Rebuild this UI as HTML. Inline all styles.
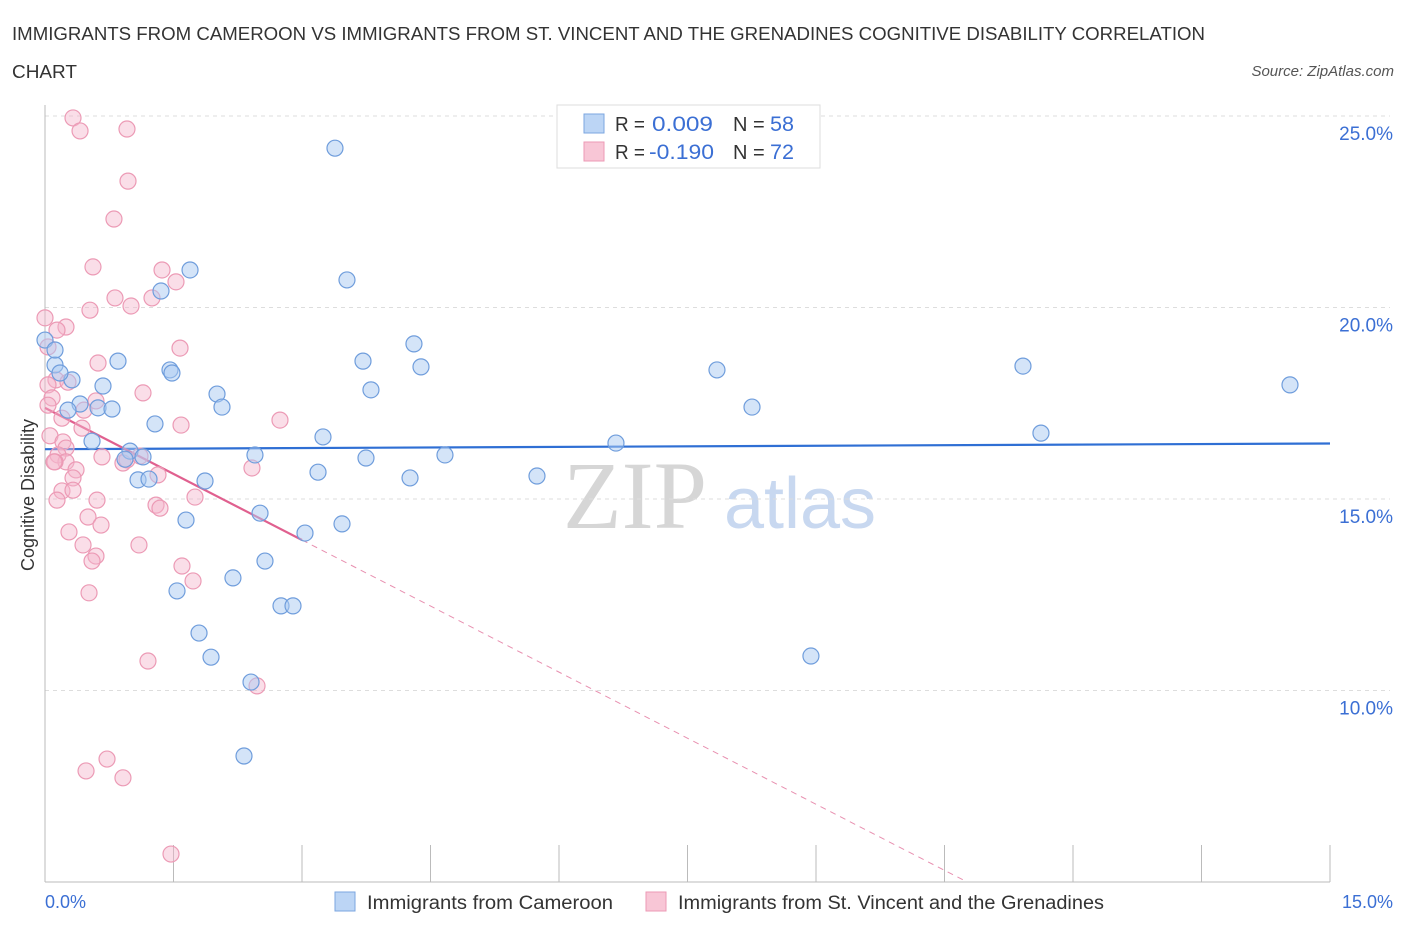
<!DOCTYPE html>
<html><head><meta charset="utf-8">
<style>
body{margin:0;background:#fff;font-family:"Liberation Sans",sans-serif;}
svg text{font-family:"Liberation Sans",sans-serif;}
</style></head>
<body>
<svg id="chart" width="1406" height="930" xmlns="http://www.w3.org/2000/svg">
<text x="12" y="40" font-size="18" fill="#333" textLength="1193" lengthAdjust="spacingAndGlyphs">IMMIGRANTS FROM CAMEROON VS IMMIGRANTS FROM ST. VINCENT AND THE GRENADINES COGNITIVE DISABILITY CORRELATION</text>
<text x="12" y="78" font-size="18" fill="#333" textLength="65" lengthAdjust="spacingAndGlyphs">CHART</text>
<text x="1394" y="76" font-size="15" fill="#555" font-style="italic" text-anchor="end">Source: ZipAtlas.com</text>
<text x="635" y="528" font-size="96" fill="#d6d6d6" text-anchor="middle" style="font-family:'Liberation Serif',serif">ZIP</text>
<text x="800" y="528" font-size="72" fill="#c8d8f0" text-anchor="middle">atlas</text>
<g id="grid"></g>
<g id="axes"></g>
<g id="lines"></g>
<g id="points"></g>
<text x="34" y="495" font-size="18" fill="#333" text-anchor="middle" transform="rotate(-90 34 495)">Cognitive Disability</text>
<text x="45" y="908" font-size="18" fill="#3b6fd4">0.0%</text>
<text x="1393" y="908" font-size="18" fill="#3b6fd4" text-anchor="end">15.0%</text>
<g>
<rect x="557" y="105" width="263" height="63" fill="#fff" stroke="#ddd"/>
<rect x="584" y="114" width="20" height="19" fill="#bcd5f5" stroke="#7ba6e0"/>
<rect x="584" y="142" width="20" height="19" fill="#f8c6d6" stroke="#ec9ab5"/>
<text x="615" y="131" font-size="20" fill="#333" textLength="30" lengthAdjust="spacingAndGlyphs">R =</text><text x="652" y="131" font-size="21" fill="#3b6fd4" textLength="61" lengthAdjust="spacingAndGlyphs">0.009</text>
<text x="733" y="131" font-size="20" fill="#333">N = </text><text x="770" y="131" font-size="21" fill="#3b6fd4" textLength="24" lengthAdjust="spacingAndGlyphs">58</text>
<text x="615" y="159" font-size="20" fill="#333" textLength="30" lengthAdjust="spacingAndGlyphs">R =</text><text x="649" y="159" font-size="21" fill="#3b6fd4" textLength="65" lengthAdjust="spacingAndGlyphs">-0.190</text>
<text x="733" y="159" font-size="20" fill="#333">N = </text><text x="770" y="159" font-size="21" fill="#3b6fd4" textLength="24" lengthAdjust="spacingAndGlyphs">72</text>
</g>
<g>
<rect x="335" y="892" width="20" height="19" fill="#bcd5f5" stroke="#7ba6e0"/>
<text x="367" y="909" font-size="19" fill="#333" textLength="246" lengthAdjust="spacingAndGlyphs">Immigrants from Cameroon</text>
<rect x="646" y="892" width="20" height="19" fill="#f8c6d6" stroke="#ec9ab5"/>
<text x="678" y="909" font-size="19" fill="#333" textLength="426" lengthAdjust="spacingAndGlyphs">Immigrants from St. Vincent and the Grenadines</text>
</g>
</svg>
<script>
const yTicks=[10,15,20,25];
const yTickLabels=["10.0%","15.0%","20.0%","25.0%"];
const xTicks=[0,1.5,3,4.5,6,7.5,9,10.5,12,13.5,15];
const blueX=[3.385,1.693,3.525,1.354,0,0.852,1.459,1.482,3.712,4.307,4.389,0.117,0.315,0.677,2.008,3.805,0.409,0.268,0.619,0.782,2.066,1.284,3.245,0.549,0.992,0.934,1.144,2.451,3.747,4.669,6.665,3.187,4.261,5.743,1.868,1.086,1.214,2.510,1.646,3.467,3.035,2.568,2.194,1.541,2.755,2.895,1.798,1.938,2.405,2.323,7.844,8.253,11.416,11.626,14.533,8.941,0.117,0.175];
const blueY=[24.16,20.98,20.72,20.43,19.15,18.60,18.37,18.29,18.60,19.05,18.45,18.50,18.11,17.95,17.74,17.85,17.48,17.32,17.38,17.35,17.40,16.96,16.62,16.51,16.25,16.04,16.10,16.15,16.07,16.15,16.46,15.70,15.55,15.60,15.47,15.50,15.52,14.63,14.45,14.35,14.11,13.38,12.94,12.60,12.21,12.21,11.50,10.87,10.22,8.29,18.37,17.40,18.47,16.72,17.98,10.90,18.89,18.29];
const pinkX=[0.327,0.409,0.957,0.969,0.805,0.560,1.366,1.529,0.817,1.249,1.004,0.525,0,0.245,0.140,0.035,1.576,0.619,0.128,0.268,0.035,0.082,0.035,0.595,1.144,0.455,2.743,1.588,0.432,0.058,0.210,0.245,0.152,0.245,0.665,0.117,0.910,0.957,2.416,0.362,1.319,0.327,0.198,0.327,0.607,1.751,0.140,1.296,1.342,0.502,0.654,0.280,0.444,1.097,0.595,0.549,1.599,1.728,0.514,1.202,2.475,0.724,0.479,0.910,1.471,0.105,0.198,1.109];
const pinkY=[24.95,24.61,24.66,23.30,22.31,21.06,20.98,20.67,20.25,20.25,20.04,19.93,19.73,19.49,19.41,18.97,18.94,18.55,18.11,18.05,17.98,17.64,17.45,17.56,17.77,17.32,17.06,16.93,16.85,16.65,16.49,16.33,16.15,15.97,16.10,15.97,15.94,16.02,15.81,15.76,15.63,15.55,15.21,15.23,14.97,15.05,14.97,14.84,14.76,14.53,14.32,14.14,13.80,13.80,13.51,13.38,13.25,12.86,12.55,10.77,10.12,8.21,7.90,7.72,5.73,15.97,17.11,16.12];
const blueTrend=[16.30,16.45];
const pinkTrend=[17.38,-1.15];
const NS="http://www.w3.org/2000/svg";
const X0=45,X1=1330,XMAX=15,Y0=882,YMIN=5,PPU=38.3;
function sx(v){return X0+(v/XMAX)*(X1-X0);}
function sy(v){return Y0-(v-YMIN)*PPU;}
function mk(tag,attrs,parent){const e=document.createElementNS(NS,tag);for(const k in attrs)e.setAttribute(k,attrs[k]);parent.appendChild(e);return e;}
const grid=document.getElementById('grid'),axes=document.getElementById('axes'),lines=document.getElementById('lines'),pts=document.getElementById('points');
yTicks.forEach((t,i)=>{
 const l=mk('line',{x1:X0,x2:X1+60,y1:sy(t),y2:sy(t),stroke:'#ddd','stroke-dasharray':'4,4'},grid);
 
 
 const tx=mk('text',{x:1393,y:sy(t)+24,'font-size':19,fill:'#3b6fd4','text-anchor':'end'},grid);
 tx.textContent=yTickLabels[i];
 
 
});
const ya=mk('line',{x1:X0,x2:X0,y1:105,y2:Y0,stroke:'#bbb'},axes);


const xa=mk('line',{x1:X0,x2:X1,y1:Y0,y2:Y0,stroke:'#bbb'},axes);


xTicks.forEach(t=>{
 const l=mk('line',{x1:sx(t),x2:sx(t),y1:845,y2:Y0,stroke:'#bbb'},axes);
 
 
});
function drawPts(xs,ys,fill,stroke,name){
 xs.forEach((x,i)=>{
  const c=mk('circle',{cx:sx(x),cy:sy(ys[i]),r:8,fill:fill,stroke:stroke,'stroke-width':1.2},pts);
  
  
 });
}
drawPts(pinkX,pinkY,'rgba(245,182,203,0.45)','#ec9ab5','point-stvincent');
drawPts(blueX,blueY,'rgba(170,202,242,0.5)','#6f9ddc','point-cameroon');
const bl=mk('line',{x1:sx(0),y1:sy(blueTrend[0]),x2:sx(XMAX),y2:sy(blueTrend[1]),stroke:'#2f6fd4','stroke-width':2.2},lines);


const py=x=>pinkTrend[0]+pinkTrend[1]*x;
const xEnd=(YMIN-pinkTrend[0])/pinkTrend[1];
const pl=mk('line',{x1:sx(0),y1:sy(py(0)),x2:sx(3),y2:sy(py(3)),stroke:'#e0608f','stroke-width':2.2},lines);


const pd=mk('line',{x1:sx(3),y1:sy(py(3)),x2:sx(xEnd),y2:sy(YMIN),stroke:'#e890b0','stroke-width':1,'stroke-dasharray':'6,5'},lines);


</script>
</body></html>
